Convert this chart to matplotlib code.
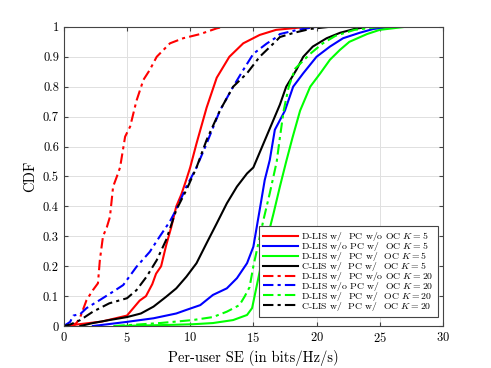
import matplotlib
matplotlib.use("Agg")
import matplotlib.pyplot as plt

plt.rcParams["font.family"] = "serif"
plt.rcParams["font.serif"] = ["cmr10", "DejaVu Serif"]
plt.rcParams["mathtext.fontset"] = "cm"
plt.rcParams["axes.formatter.use_mathtext"] = True

# D-LIS w/ PC w/o OC, K=5
red_k5_x = [0.5, 1, 2, 3, 4, 5, 5.5, 6, 6.5, 7, 7.3, 7.7, 8.1, 8.5, 8.9, 9.3, 9.7, 10.0, 10.5, 11.3, 12.1, 13.1, 14.2, 15.5, 16.8, 18.5, 20, 30]
red_k5_y = [0, 0.005, 0.01, 0.015, 0.025, 0.035, 0.06, 0.085, 0.1, 0.14, 0.175, 0.2, 0.27, 0.33, 0.4, 0.44, 0.49, 0.53, 0.61, 0.73, 0.83, 0.9, 0.945, 0.973, 0.99, 0.997, 1.0, 1.0]

# D-LIS w/o PC w/ OC, K=5
blue_k5_x = [2.3, 5.0, 7.1, 8.9, 9.7, 10.8, 11.8, 12.9, 13.7, 14.5, 15.0, 15.5, 15.9, 16.3, 16.7, 17.5, 18.15, 18.95, 20.0, 21.06, 22.1, 23.4, 24.5, 26, 30]
blue_k5_y = [0, 0.014, 0.026, 0.042, 0.054, 0.07, 0.104, 0.126, 0.16, 0.21, 0.265, 0.388, 0.488, 0.555, 0.656, 0.72, 0.8, 0.845, 0.9, 0.934, 0.962, 0.98, 0.993, 1.0, 1.0]

# D-LIS w/ PC w/ OC, K=5
green_k5_x = [4, 7.6, 10.2, 11.8, 13.4, 14.5, 14.9, 15.25, 15.8, 16.6, 17.1, 17.6, 18.1, 18.7, 19.5, 20.3, 21.06, 21.85, 22.6, 24, 25, 27, 30]
green_k5_y = [0, 0.003, 0.006, 0.01, 0.02, 0.037, 0.06, 0.131, 0.243, 0.377, 0.466, 0.55, 0.63, 0.72, 0.8, 0.845, 0.89, 0.923, 0.95, 0.976, 0.99, 1.0, 1.0]

# C-LIS w/ PC w/ OC, K=5
black_k5_x = [1.3, 2.3, 3.6, 5.0, 6.1, 7.1, 8.1, 8.9, 9.7, 10.5, 11.3, 12.1, 12.9, 13.7, 14.5, 15.0, 15.8, 16.6, 17.1, 17.6, 18.4, 18.95, 19.7, 20.8, 21.85, 23, 24, 30]
black_k5_y = [0, 0.01, 0.02, 0.03, 0.042, 0.065, 0.098, 0.126, 0.165, 0.21, 0.277, 0.343, 0.41, 0.466, 0.51, 0.53, 0.61, 0.69, 0.74, 0.8, 0.856, 0.9, 0.934, 0.962, 0.98, 0.993, 1.0, 1.0]

# D-LIS w/ PC w/o OC, K=20
red_k20_x = [0.5, 1.0, 1.3, 1.8, 2.3, 2.7, 2.85, 3.1, 3.4, 3.65, 3.9, 4.2, 4.45, 4.85, 5.25, 5.75, 6.3, 6.8, 7.35, 8.4, 9.45, 10.8, 12.1, 12.6, 30]
red_k20_y = [0, 0.01, 0.03, 0.087, 0.12, 0.143, 0.22, 0.3, 0.33, 0.365, 0.466, 0.5, 0.53, 0.633, 0.667, 0.753, 0.823, 0.856, 0.9, 0.945, 0.962, 0.976, 0.995, 1.0, 1.0]

# D-LIS w/o PC w/ OC, K=20
blue_k20_x = [0, 0.5, 0.75, 1.3, 1.8, 2.85, 3.9, 4.7, 5.75, 6.8, 7.6, 8.4, 8.9, 9.7, 10.5, 11.3, 12.35, 13.4, 14.2, 15.0, 16.05, 16.85, 17.1, 18.5, 20, 30]
blue_k20_y = [0, 0.014, 0.035, 0.04, 0.06, 0.087, 0.115, 0.137, 0.198, 0.248, 0.3, 0.35, 0.39, 0.466, 0.53, 0.61, 0.72, 0.8, 0.856, 0.91, 0.944, 0.966, 0.976, 0.99, 1.0, 1.0]

# D-LIS w/ PC w/ OC, K=20
green_k20_x = [4, 7.6, 10.2, 11.8, 12.9, 13.9, 14.3, 14.7, 15.0, 15.4, 15.8, 16.3, 16.85, 17.1, 17.4, 17.8, 18.3, 19.5, 20.5, 21.5, 23, 25, 30]
green_k20_y = [0, 0.01, 0.02, 0.03, 0.048, 0.07, 0.098, 0.13, 0.2, 0.277, 0.355, 0.444, 0.55, 0.63, 0.72, 0.8, 0.86, 0.91, 0.945, 0.97, 0.99, 1.0, 1.0]

# C-LIS w/ PC w/ OC, K=20
black_k20_x = [0, 0.5, 1.3, 2.3, 3.6, 5.0, 5.75, 6.55, 7.35, 8.1, 8.9, 9.7, 10.5, 11.3, 12.35, 13.4, 14.5, 15.5, 16.85, 17.1, 18.2, 19.5, 21, 30]
black_k20_y = [0, 0.005, 0.02, 0.048, 0.076, 0.093, 0.12, 0.165, 0.22, 0.288, 0.388, 0.455, 0.53, 0.622, 0.72, 0.8, 0.845, 0.9, 0.955, 0.966, 0.98, 0.993, 1.0, 1.0]

labels = [
    r"D-LIS w/  PC w/o OC $K = 5$",
    r"D-LIS w/o PC w/  OC $K = 5$",
    r"D-LIS w/  PC w/  OC $K = 5$",
    r"C-LIS w/  PC w/  OC $K = 5$",
    r"D-LIS w/  PC w/o OC $K = 20$",
    r"D-LIS w/o PC w/  OC $K = 20$",
    r"D-LIS w/  PC w/  OC $K = 20$",
    r"C-LIS w/  PC w/  OC $K = 20$",
]

fig = plt.figure(figsize=(4.91, 3.68), dpi=100)
ax = fig.add_axes([0.130, 0.114, 0.772, 0.813])

dd = (0, (5, 2, 1.5, 2))
lw = 1.5
ax.plot(red_k5_x, red_k5_y, "-", color="#ff0000", lw=lw, label=labels[0])
ax.plot(blue_k5_x, blue_k5_y, "-", color="#0000ff", lw=lw, label=labels[1])
ax.plot(green_k5_x, green_k5_y, "-", color="#00ff00", lw=lw, label=labels[2])
ax.plot(black_k5_x, black_k5_y, "-", color="black", lw=lw, label=labels[3])
ax.plot(red_k20_x, red_k20_y, linestyle=dd, color="#ff0000", lw=lw, label=labels[4])
ax.plot(blue_k20_x, blue_k20_y, linestyle=dd, color="#0000ff", lw=lw, label=labels[5])
ax.plot(green_k20_x, green_k20_y, linestyle=dd, color="#00ff00", lw=lw, label=labels[6])
ax.plot(black_k20_x, black_k20_y, linestyle=dd, color="black", lw=lw, label=labels[7])

ax.set_xlim(0, 30)
ax.set_ylim(0, 1)
ax.set_xticks(range(0, 31, 5))
ax.set_yticks([i / 10 for i in range(11)])
ax.set_yticklabels(["0", "0.1", "0.2", "0.3", "0.4", "0.5", "0.6", "0.7", "0.8", "0.9", "1"])
ax.grid(True, color="#e0e0e0", lw=0.7)
ax.set_axisbelow(True)
ax.tick_params(direction="in", top=True, right=True, labelsize=9, length=3, color="#444444")
for s in ax.spines.values():
    s.set_color("#444444")
    s.set_linewidth(0.8)

ax.set_xlabel("Per-user SE (in bits/Hz/s)", fontsize=10.5)
ax.set_ylabel("CDF", fontsize=10.5)

leg = ax.legend(loc="lower right", bbox_to_anchor=(1.0, 0.014), fontsize=7,
                handlelength=3.6, labelspacing=-0.32, borderpad=0.45,
                handletextpad=0.3, fancybox=False, framealpha=1)
leg.get_frame().set_edgecolor("#444444")
leg.get_frame().set_linewidth(0.8)

fig.savefig("out.png", dpi=100)
